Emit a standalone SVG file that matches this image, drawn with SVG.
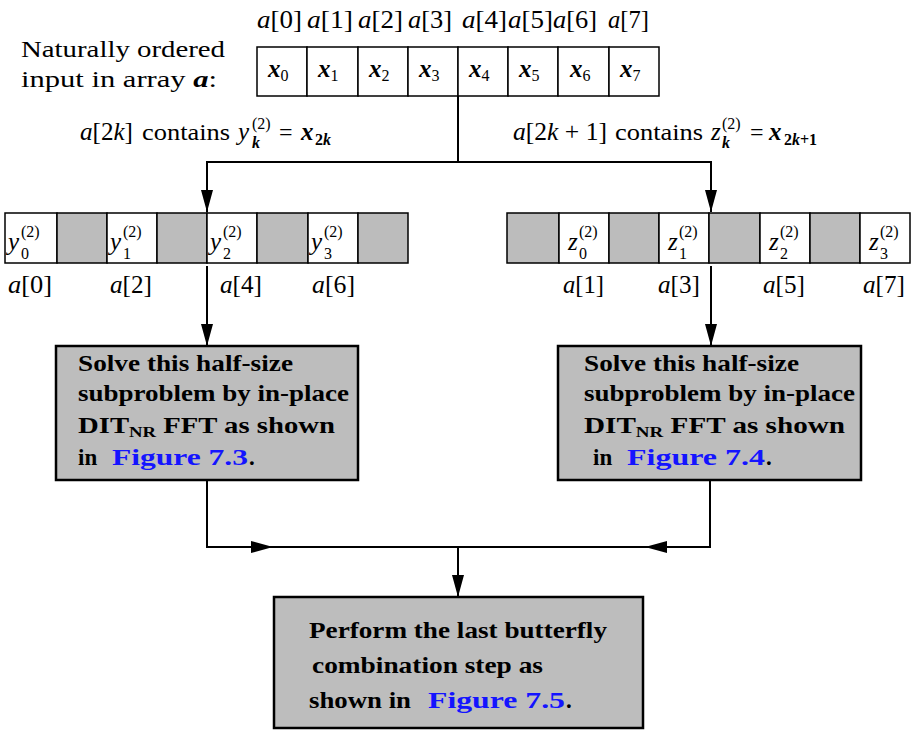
<svg xmlns="http://www.w3.org/2000/svg" width="914" height="730" viewBox="0 0 914 730">
  <defs>
    <marker id="arr" viewBox="0 0 22 12" refX="22" refY="6" markerWidth="22" markerHeight="12" markerUnits="userSpaceOnUse" orient="auto">
      <path d="M0,0 L22,6 L0,12 z" fill="#000"/>
    </marker>
    <style>
      text { font-family: "Liberation Serif", "Times New Roman", serif; fill: #000; }
      .t { font-size: 24px; }
      .m { font-size: 25px; font-style: italic; }
      .up { font-style: normal; }
      .bi { font-weight: bold; font-style: italic; }
      .s { font-size: 16px; font-style: normal; }
      .b { font-size: 23px; font-weight: bold; }
      .fig { fill: #1414ff; }
      .cell { fill: #fff; stroke: #000; stroke-width: 1.5; }
      .shade { fill: #bcbcbc; stroke: #000; stroke-width: 1.5; }
      .box { fill: #bdbdbd; stroke: #000; stroke-width: 2.5; }
      .ln { fill: none; stroke: #000; stroke-width: 2; }
    </style>
  </defs>

  <rect width="914" height="730" fill="#fff"/>

  <!-- input description -->
  <g id="input-label">
    <text class="t" x="21" y="57" textLength="204" lengthAdjust="spacingAndGlyphs">Naturally ordered</text>
    <text class="t" x="21" y="87" textLength="196" lengthAdjust="spacingAndGlyphs">input in array <tspan class="bi">a</tspan>:</text>
  </g>

  <!-- naturally ordered input array -->
  <g id="input-array">
    <g class="m">
      <text x="257" y="28" textLength="45" lengthAdjust="spacingAndGlyphs">a<tspan class="up">[0]</tspan></text>
      <text x="307" y="28" textLength="46" lengthAdjust="spacingAndGlyphs">a<tspan class="up">[1]</tspan></text>
      <text x="358" y="28" textLength="45" lengthAdjust="spacingAndGlyphs">a<tspan class="up">[2]</tspan></text>
      <text x="408" y="28" textLength="44" lengthAdjust="spacingAndGlyphs">a<tspan class="up">[3]</tspan></text>
      <text x="462" y="28" textLength="45" lengthAdjust="spacingAndGlyphs">a<tspan class="up">[4]</tspan></text>
      <text x="508" y="28" textLength="45" lengthAdjust="spacingAndGlyphs">a<tspan class="up">[5]</tspan></text>
      <text x="553" y="28" textLength="44" lengthAdjust="spacingAndGlyphs">a<tspan class="up">[6]</tspan></text>
      <text x="608" y="28" textLength="41" lengthAdjust="spacingAndGlyphs">a<tspan class="up">[7]</tspan></text>
    </g>
    <rect class="cell" x="257" y="47" width="50" height="49"/>
    <rect class="cell" x="307" y="47" width="51" height="49"/>
    <rect class="cell" x="358" y="47" width="50" height="49"/>
    <rect class="cell" x="408" y="47" width="50" height="49"/>
    <rect class="cell" x="458" y="47" width="50" height="49"/>
    <rect class="cell" x="508" y="47" width="50" height="49"/>
    <rect class="cell" x="558" y="47" width="51" height="49"/>
    <rect class="cell" x="609" y="47" width="50" height="49"/>
    <g class="m">
      <text x="268" y="77"><tspan class="bi">x</tspan><tspan class="s" dy="4">0</tspan></text>
      <text x="318" y="77"><tspan class="bi">x</tspan><tspan class="s" dy="4">1</tspan></text>
      <text x="369" y="77"><tspan class="bi">x</tspan><tspan class="s" dy="4">2</tspan></text>
      <text x="419" y="77"><tspan class="bi">x</tspan><tspan class="s" dy="4">3</tspan></text>
      <text x="469" y="77"><tspan class="bi">x</tspan><tspan class="s" dy="4">4</tspan></text>
      <text x="519" y="77"><tspan class="bi">x</tspan><tspan class="s" dy="4">5</tspan></text>
      <text x="570" y="77"><tspan class="bi">x</tspan><tspan class="s" dy="4">6</tspan></text>
      <text x="620" y="77"><tspan class="bi">x</tspan><tspan class="s" dy="4">7</tspan></text>
    </g>
  </g>

  <!-- even / odd split labels -->
  <g id="split-labels" class="m">
    <text x="80" y="140" textLength="53" lengthAdjust="spacingAndGlyphs">a<tspan class="up">[2</tspan>k<tspan class="up">]</tspan></text>
    <text class="t" x="142" y="140" style="font-style:normal" textLength="88" lengthAdjust="spacingAndGlyphs">contains</text>
    <text x="238" y="140">y</text>
    <text class="s" x="252" y="129">(2)</text>
    <text class="s" x="252" y="148" style="font-style:italic;font-weight:bold">k</text>
    <text class="t" x="279" y="140" style="font-style:normal">=</text>
    <text x="301" y="140"><tspan class="bi">x</tspan></text>
    <text class="s" x="315" y="145" style="font-weight:bold">2<tspan style="font-style:italic">k</tspan></text>

    <text x="513" y="140" textLength="94" lengthAdjust="spacingAndGlyphs">a<tspan class="up">[2</tspan>k<tspan class="up"> + 1]</tspan></text>
    <text class="t" x="615" y="140" style="font-style:normal" textLength="88" lengthAdjust="spacingAndGlyphs">contains</text>
    <text x="711" y="140">z</text>
    <text class="s" x="722" y="129">(2)</text>
    <text class="s" x="722" y="148" style="font-style:italic;font-weight:bold">k</text>
    <text class="t" x="750" y="140" style="font-style:normal">=</text>
    <text x="769" y="140"><tspan class="bi">x</tspan></text>
    <text class="s" x="784" y="145" style="font-weight:bold">2<tspan style="font-style:italic">k</tspan>+1</text>
  </g>

  <!-- even-indexed half (y) -->
  <g id="even-array">
    <rect class="cell" x="5" y="213" width="52" height="50"/>
    <rect class="shade" x="57" y="213" width="50" height="50"/>
    <rect class="cell" x="107" y="213" width="50" height="50"/>
    <rect class="shade" x="157" y="213" width="50" height="50"/>
    <rect class="cell" x="207" y="213" width="50" height="50"/>
    <rect class="shade" x="257" y="213" width="51" height="50"/>
    <rect class="cell" x="308" y="213" width="50" height="50"/>
    <rect class="shade" x="358" y="213" width="50" height="50"/>
    <g class="m">
      <text x="8" y="250">y</text><text class="s" x="21" y="237">(2)</text><text class="s" x="21" y="259">0</text>
      <text x="110" y="250">y</text><text class="s" x="123" y="237">(2)</text><text class="s" x="123" y="259">1</text>
      <text x="210" y="250">y</text><text class="s" x="223" y="237">(2)</text><text class="s" x="223" y="259">2</text>
      <text x="311" y="250">y</text><text class="s" x="324" y="237">(2)</text><text class="s" x="324" y="259">3</text>
      <text x="8" y="293" textLength="44" lengthAdjust="spacingAndGlyphs">a<tspan class="up">[0]</tspan></text>
      <text x="110" y="293" textLength="42" lengthAdjust="spacingAndGlyphs">a<tspan class="up">[2]</tspan></text>
      <text x="220" y="293" textLength="42" lengthAdjust="spacingAndGlyphs">a<tspan class="up">[4]</tspan></text>
      <text x="312" y="293" textLength="43" lengthAdjust="spacingAndGlyphs">a<tspan class="up">[6]</tspan></text>
    </g>
  </g>

  <!-- odd-indexed half (z) -->
  <g id="odd-array">
    <rect class="shade" x="507" y="213" width="52" height="50"/>
    <rect class="cell" x="559" y="213" width="50" height="50"/>
    <rect class="shade" x="609" y="213" width="50" height="50"/>
    <rect class="cell" x="659" y="213" width="50" height="50"/>
    <rect class="shade" x="709" y="213" width="51" height="50"/>
    <rect class="cell" x="760" y="213" width="50" height="50"/>
    <rect class="shade" x="810" y="213" width="50" height="50"/>
    <rect class="cell" x="860" y="213" width="50" height="50"/>
    <g class="m">
      <text x="568" y="250">z</text><text class="s" x="579" y="237">(2)</text><text class="s" x="579" y="259">0</text>
      <text x="668" y="250">z</text><text class="s" x="679" y="237">(2)</text><text class="s" x="679" y="259">1</text>
      <text x="769" y="250">z</text><text class="s" x="780" y="237">(2)</text><text class="s" x="780" y="259">2</text>
      <text x="869" y="250">z</text><text class="s" x="880" y="237">(2)</text><text class="s" x="880" y="259">3</text>
      <text x="563" y="293" textLength="41" lengthAdjust="spacingAndGlyphs">a<tspan class="up">[1]</tspan></text>
      <text x="658" y="293" textLength="42" lengthAdjust="spacingAndGlyphs">a<tspan class="up">[3]</tspan></text>
      <text x="763" y="293" textLength="42" lengthAdjust="spacingAndGlyphs">a<tspan class="up">[5]</tspan></text>
      <text x="863" y="293" textLength="42" lengthAdjust="spacingAndGlyphs">a<tspan class="up">[7]</tspan></text>
    </g>
  </g>

  <!-- left half-size subproblem -->
  <g id="solve-even">
    <rect class="box" x="56" y="346" width="302" height="134"/>
    <text class="b" x="78" y="371" textLength="215" lengthAdjust="spacingAndGlyphs">Solve this half-size</text>
    <text class="b" x="78" y="401" textLength="271" lengthAdjust="spacingAndGlyphs">subproblem by in-place</text>
    <text class="b" x="78" y="433" textLength="257" lengthAdjust="spacingAndGlyphs">DIT<tspan style="font-size:15px" dy="4">NR</tspan><tspan dy="-4"> FFT as shown</tspan></text>
    <text class="b" x="78" y="465">in</text>
    <text class="b fig" x="112" y="465" textLength="136" lengthAdjust="spacingAndGlyphs">Figure 7.3</text>
    <text class="b" x="249" y="465">.</text>
  </g>

  <!-- right half-size subproblem -->
  <g id="solve-odd">
    <rect class="box" x="558" y="346" width="303" height="134"/>
    <text class="b" x="584" y="371" textLength="215" lengthAdjust="spacingAndGlyphs">Solve this half-size</text>
    <text class="b" x="584" y="401" textLength="271" lengthAdjust="spacingAndGlyphs">subproblem by in-place</text>
    <text class="b" x="584" y="433" textLength="261" lengthAdjust="spacingAndGlyphs">DIT<tspan style="font-size:15px" dy="4">NR</tspan><tspan dy="-4"> FFT as shown</tspan></text>
    <text class="b" x="593" y="465">in</text>
    <text class="b fig" x="627" y="465" textLength="138" lengthAdjust="spacingAndGlyphs">Figure 7.4</text>
    <text class="b" x="766" y="465">.</text>
  </g>

  <!-- final butterfly step -->
  <g id="butterfly">
    <rect class="box" x="274" y="597" width="369" height="131"/>
    <text class="b" x="309" y="638" textLength="298" lengthAdjust="spacingAndGlyphs">Perform the last butterfly</text>
    <text class="b" x="312" y="673" textLength="231" lengthAdjust="spacingAndGlyphs">combination step as</text>
    <text class="b" x="309" y="708" textLength="102" lengthAdjust="spacingAndGlyphs">shown in</text>
    <text class="b fig" x="428" y="708" textLength="137" lengthAdjust="spacingAndGlyphs">Figure 7.5</text>
    <text class="b" x="566" y="708">.</text>
  </g>

  <!-- connectors -->
  <g id="connectors">
    <path class="ln" d="M458 96 V162"/>
    <path class="ln" d="M458 162 H207 V212" marker-end="url(#arr)"/>
    <path class="ln" d="M458 162 H711 V212" marker-end="url(#arr)"/>
    <path class="ln" d="M207 266 V346" marker-end="url(#arr)"/>
    <path class="ln" d="M711 266 V346" marker-end="url(#arr)"/>
    <path class="ln" d="M207 480 V547 H273" marker-end="url(#arr)"/>
    <path class="ln" d="M273 547 H645"/>
    <path class="ln" d="M710 480 V547 H645" marker-end="url(#arr)"/>
    <path class="ln" d="M458 547 V597" marker-end="url(#arr)"/>
  </g>
</svg>
